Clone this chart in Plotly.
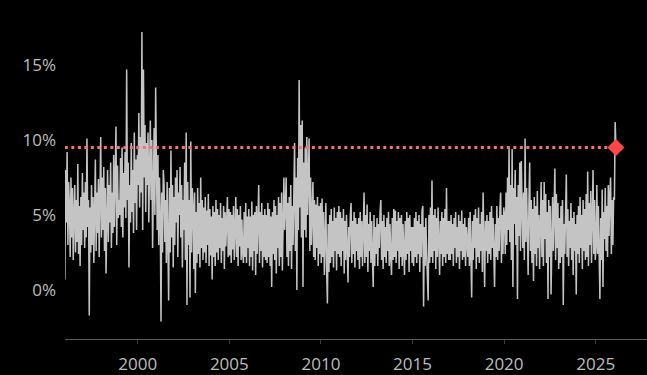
import plotly.graph_objects as go

# semi-monthly readings (%)
v1996 = [0.7, 8.0, 4.5, 9.2, 3.0, 7.2, 5.5, 2.2, 7.5, 3.5, 6.8, 2.0, 5.0, 7.0, 2.5, 6.0, 3.2, 8.4, 2.4, 5.6, 1.6, 6.2, 3.0, 7.8]
v1997 = [4.0, 6.5, 2.8, 7.2, 3.5, 10.1, 4.2, 6.0, -1.7, 5.5, 2.5, 7.0, 3.0, 6.2, 1.8, 5.0, 8.7, 2.6, 6.5, 3.8, 7.4, 2.2, 6.0, 10.2]
v1998 = [3.5, 7.5, 4.0, 8.2, 2.6, 6.8, 1.1, 5.8, 8.0, 3.2, 7.0, 4.5, 8.5, 2.8, 6.5, 3.8, 9.0, 4.2, 7.2, 10.9, 3.0, 8.3, 4.8, 6.0]
v1999 = [5.0, 8.8, 4.2, 9.5, 3.5, 7.8, 5.5, 9.2, 4.8, 14.7, 6.0, 8.5, 1.5, 7.0, 4.5, 9.8, 5.2, 8.0, 3.8, 10.5, 5.8, 8.7, 4.0, 9.0]
v2000 = [7.0, 11.8, 5.5, 10.2, 6.5, 17.2, 4.0, 14.7, 7.5, 11.0, 5.2, 9.8, 7.0, 10.5, 4.5, 9.0, 11.3, 6.0, 10.0, 2.8, 8.5, 10.8, 5.0, 13.5]
v2001 = [8.5, 4.0, 9.0, 3.0, 7.5, 5.0, -2.1, 6.5, 2.5, 8.0, 7.0, 3.2, 6.0, 1.8, 7.2, 4.0, -0.7, 6.8, 2.5, 9.3, 3.5, 7.0, 1.5, 6.2]
v2002 = [3.0, 7.5, 4.5, 8.0, 2.2, 6.5, 5.0, 8.2, 3.5, 7.0, 1.5, 6.0, 4.0, 8.5, 2.0, 10.5, -1.0, 7.2, 3.0, 6.0, -0.5, 9.9, 2.5, 6.8]
v2003 = [5.5, 1.4, 6.5, -0.2, 5.2, 1.8, 6.8, 2.4, 5.8, 1.5, 7.5, 2.8, 6.0, 2.0, 5.5, 2.5, 6.2, 1.8, 5.3, 3.0, 6.4, 1.6, 5.4, 2.3]
v2004 = [4.9, 0.7, 5.6, 2.2, 5.2, 1.6, 6.0, 2.5, 5.4, 2.0, 5.0, 2.8, 5.8, 1.8, 4.8, 2.6, 5.6, 1.4, 5.2, 2.9, 4.7, 6.2, 2.2, 5.4]
v2005 = [2.3, 5.2, 1.8, 5.0, 2.7, 5.6, 2.0, 4.9, 6.2, 2.2, 5.4, 1.6, 5.0, 2.9, 5.6, 2.0, 4.7, 2.5, 1.8, 5.2, 2.2, 5.8, 1.8, 4.9]
v2006 = [2.8, 5.4, 1.6, 4.9, 2.2, 5.9, 1.3, 5.0, 2.6, 5.2, 1.0, 5.6, 2.4, 4.7, 7.0, 1.8, 5.2, 2.6, 5.8, 1.5, 5.0, 2.2, 5.4, 2.0]
v2007 = [5.0, 1.8, 5.8, 2.2, 5.4, 1.6, 4.9, 0.2, 5.2, 2.4, 6.0, 2.0, 5.6, 1.1, 5.0, 2.8, 6.2, 1.6, 5.8, 2.2, 6.5, 1.3, 6.0, 7.5]
v2008 = [4.0, 6.5, 7.5, 2.2, 5.8, 1.6, 6.2, 2.6, 7.0, 1.4, 5.6, 3.0, 8.0, 9.8, 2.6, 7.5, 0.0, 8.8, 4.0, 14.0, 5.5, 11.0, 3.5, 11.3]
v2009 = [0.2, 8.5, 4.0, 9.5, 3.5, 10.2, 5.0, 8.0, 10.1, 2.6, 7.5, 3.0, 6.5, 7.2, 2.2, 6.0, 2.0, 5.7, 2.8, 6.2, 1.6, 5.6, 2.4, 5.8]
v2010 = [1.8, 6.1, 2.2, 5.2, 1.0, 4.8, 5.8, 1.3, -0.9, 4.4, 1.2, 5.0, 1.8, 5.4, 2.2, 4.6, 1.5, 5.5, 2.6, 4.8, 1.3, 5.2, 2.4, 5.6]
v2011 = [2.2, 5.2, 1.6, 4.8, 2.6, 5.4, 1.1, 4.6, 2.0, 5.0, 0.9, 0.5, 4.2, 2.2, 5.0, 5.8, 1.8, 4.6, 2.4, 5.2, 1.5, 4.8, 2.6, 4.4]
v2012 = [2.0, 4.8, 1.4, 5.2, 2.2, 4.6, 1.6, 5.5, 6.5, 1.8, 5.0, 2.2, 5.7, 1.2, 4.4, 2.6, 5.2, 1.8, 4.6, 2.2, 0.2, 5.0, 1.6, 4.2]
v2013 = [2.4, 4.8, 1.6, 4.4, 2.8, 5.2, 6.0, 2.0, 4.6, 1.4, 5.0, 2.2, 4.2, 1.8, 4.8, 2.6, 5.2, 1.6, 4.4, 2.2, 1.0, 4.8, 2.0, 5.4]
v2014 = [2.2, 5.3, 1.8, 4.6, 2.6, 5.2, 1.4, 4.8, 2.2, 5.0, 1.6, 4.4, 2.8, 1.0, 4.6, 2.0, 5.2, 2.4, 4.8, 1.2, 5.0, 2.6, 4.2, 1.8]
v2015 = [4.2, 1.6, 4.8, 2.2, 5.2, 1.8, 4.6, 2.4, 5.0, 1.2, 4.4, 2.2, 5.3, 5.6, -1.1, 4.2, 1.6, 4.8, 2.4, 1.0, -0.7, 5.0, 1.8, 5.5]
v2016 = [2.2, 7.3, 1.8, 5.0, 2.6, 5.4, 1.4, 4.8, 2.2, 5.5, 2.0, 1.0, 4.6, 2.4, 5.2, 1.6, 4.8, 2.2, 5.4, 1.8, 6.8, 2.4, 4.6, 2.0]
v2017 = [4.6, 2.0, 5.0, 2.4, 4.4, 1.6, 4.8, 2.8, 5.2, 1.8, 4.2, 2.2, 5.0, 1.4, 4.6, 2.6, 5.3, 2.0, 4.4, 2.2, 4.8, 1.6, 4.2, 2.4]
v2018 = [2.2, 4.8, 1.6, 5.2, 2.4, -0.5, 4.6, 2.0, 5.0, 2.8, 5.4, 1.4, 4.8, 2.2, 5.5, 1.8, 4.4, 2.6, 5.2, 1.2, 6.5, 2.2, 0.2, 4.6]
v2019 = [2.6, 5.0, 1.8, 4.6, 2.4, 5.2, 2.0, 5.6, 2.8, 4.8, 1.6, 0.2, 4.4, 2.2, 5.6, 2.0, 4.8, 2.6, 5.4, 6.5, 1.8, 5.0, 2.4, 5.5]
v2020 = [5.0, 2.4, 6.5, 3.0, 7.5, 4.0, 9.5, 3.2, 7.0, 2.0, 9.4, 0.2, 6.8, 4.4, 8.0, 3.0, 6.2, -0.6, 7.0, 3.6, 8.5, 2.6, 8.6, 4.0]
v2021 = [2.8, 6.5, 2.0, 10.1, 3.2, 6.8, 2.2, 1.0, 5.8, 8.5, 2.6, 6.0, 1.8, 5.4, 0.6, 6.2, 2.4, 5.6, 1.6, 6.6, 2.8, 5.0, 1.4, 6.0]
v2022 = [7.2, 2.2, 6.0, 1.6, 7.2, 3.4, 6.4, 1.8, 5.2, -0.6, 6.0, 2.2, 5.6, -0.3, 4.8, 6.2, 2.6, 5.0, 8.1, 2.0, 6.4, 2.8, 5.8, 1.4]
v2023 = [4.8, 1.8, 5.6, 2.2, 6.0, -1.0, 4.4, 2.4, 5.2, 7.7, 2.2, 5.4, 1.6, 4.6, 2.8, 5.8, 2.0, 4.8, 1.0, 5.2, 2.6, 4.4, -0.3, 5.0]
v2024 = [2.4, 5.6, 1.8, 6.2, 2.8, 5.0, 1.4, 6.0, 2.6, 5.4, 2.0, 6.4, 2.2, 7.9, 1.6, 5.8, 3.0, 6.6, 1.8, 5.2, 8.0, 2.4, 6.0, 2.0]
v2025 = [3.0, 7.0, 2.4, 5.6, 1.0, -0.6, 4.8, 2.0, 6.7, 0.2, 5.2, 3.4, 6.8, 2.6, 5.6, 2.2, 7.0, 3.6, 6.4, 7.5, 2.4, 6.0, 3.0, 6.2]
v2026 = [6.0, 11.2, 9.5]

start_year = 1996
steps_per_year = 24
threshold = 9.5

x_ticks = [2000, 2005, 2010, 2015, 2020, 2025]
x_ticktext = ["2000", "2005", "2010", "2015", "2020", "2025"]
y_ticks = [0, 5, 10, 15]
y_ticktext = ["0%", "5%", "10%", "15%"]

values = (v1996 + v1997 + v1998 + v1999 + v2000 + v2001 + v2002 + v2003 + v2004 + v2005
          + v2006 + v2007 + v2008 + v2009 + v2010 + v2011 + v2012 + v2013 + v2014 + v2015
          + v2016 + v2017 + v2018 + v2019 + v2020 + v2021 + v2022 + v2023 + v2024 + v2025 + v2026)
dates = [start_year + (i + 0.5) / steps_per_year for i in range(len(values))]

fig = go.Figure()
fig.add_trace(go.Scatter(x=dates, y=values, mode="lines",
                         line=dict(color="#c4c4c4", width=1.5), hoverinfo="skip"))
fig.add_trace(go.Scatter(x=[dates[0], dates[-1]], y=[threshold, threshold], mode="lines",
                         line=dict(color="#ff6e6e", width=3, dash="3px,3.5px"), hoverinfo="skip"))
fig.add_trace(go.Scatter(x=[dates[-1]], y=[values[-1]], mode="markers",
                         marker=dict(symbol="diamond", size=13, color="#ff4747"), hoverinfo="skip"))

fig.update_layout(
    width=647, height=375,
    margin=dict(l=65, r=0, t=0, b=36),
    paper_bgcolor="#000000", plot_bgcolor="#000000",
    showlegend=False,
    font=dict(family="Open Sans", size=17, color="#bdbdbd"),
)
fig.update_xaxes(range=[1996.03, 2027.8], tickvals=x_ticks, ticktext=x_ticktext,
                 showgrid=False, zeroline=False, showline=True, linecolor="#5a5a5a", linewidth=1,
                 ticks="outside", ticklen=4, tickcolor="#3a3a3a", ticklabelstandoff=6)
fig.update_yaxes(range=[-3.27, 19.33], tickvals=y_ticks, ticktext=y_ticktext,
                 showgrid=False, zeroline=False, showline=False, ticks="", ticklabelstandoff=8)

fig.write_html("out.html")
